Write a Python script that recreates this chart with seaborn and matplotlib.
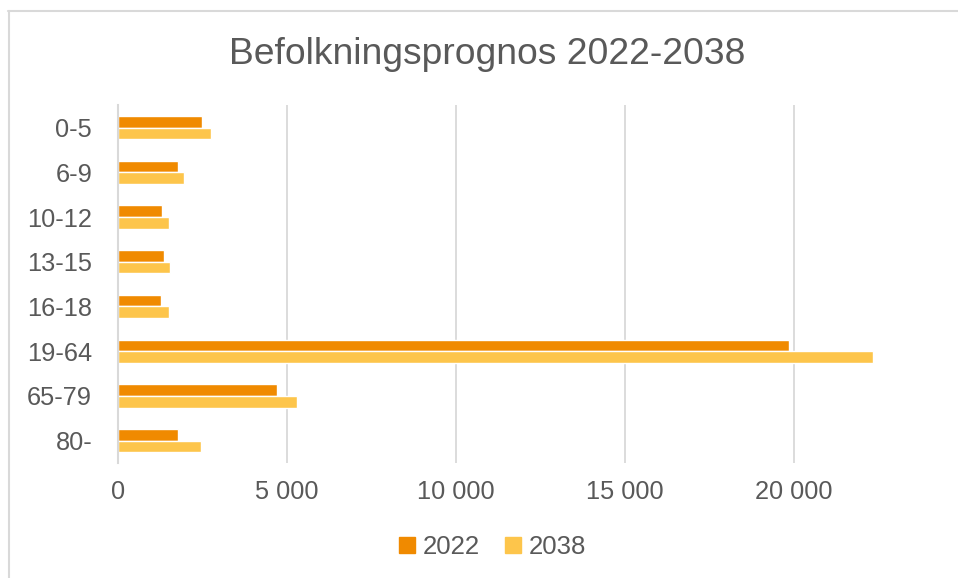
import pandas as pd
import seaborn as sns
from matplotlib import pyplot as plt
from matplotlib.lines import Line2D
from matplotlib.ticker import FuncFormatter

# data
aldrar = ['0-5', '6-9', '10-12', '13-15', '16-18', '19-64', '65-79', '80-']
ar_2022 = [2480, 1790, 1320, 1370, 1290, 19860, 4700, 1770]
ar_2038 = [2770, 1960, 1500, 1530, 1520, 22350, 5310, 2460]
serier = ['2022', '2038']
farger = ['#F08A00', '#FDC54B']

df = pd.DataFrame({
    'Ålder': aldrar * 2,
    'Antal': ar_2022 + ar_2038,
    'År': [serier[0]] * len(aldrar) + [serier[1]] * len(aldrar),
})

sns.set_style('white')
plt.rcParams['font.family'] = ['Liberation Sans', 'DejaVu Sans']
grey_txt = '#595959'

fig = plt.figure(figsize=(9.58, 5.78), dpi=100)
ax = fig.add_axes([0.123, 0.199, 0.801, 0.619])

sns.barplot(data=df, y='Ålder', x='Antal', hue='År', orient='h',
            palette=farger, width=0.52, gap=0, ax=ax, saturation=1,
            legend=True)

ax.set_xlim(0, 22700)
ax.set_xticks(range(0, 20001, 5000))
ax.xaxis.set_major_formatter(FuncFormatter(lambda v, p: f'{int(v):,}'.replace(',', ' ')))
ax.grid(axis='x', color='#D9D9D9', lw=1.3)
ax.set_axisbelow(True)
for s in ['top', 'right', 'bottom']:
    ax.spines[s].set_visible(False)
ax.spines['left'].set_color('#D9D9D9')
ax.spines['left'].set_linewidth(1.5)
ax.tick_params(length=0, labelsize=18.3, labelcolor=grey_txt)
ax.tick_params(axis='x', pad=12)
ax.tick_params(axis='y', pad=18.5)
ax.set_xlabel('')
ax.set_ylabel('')

ax.get_legend().remove()
fig.text(0.509, 0.905, 'Befolkningsprognos 2022-2038', ha='center', va='center',
         fontsize=26.8, color=grey_txt)
handles = [plt.Rectangle((0, 0), 1, 1, color=c) for c in farger]
fig.legend(handles, serier, loc='center', bbox_to_anchor=(0.514, 0.053), ncol=2,
           frameon=False, fontsize=18.5, labelcolor=grey_txt,
           handlelength=0.6, handleheight=0.6, handletextpad=0.3, columnspacing=1.0)

# light frame like the original screenshot (top and left edges)
fig.add_artist(Line2D([8 / 958, 1], [1 - 10.5 / 578] * 2, color='#D9D9D9', lw=1.5))
fig.add_artist(Line2D([8.5 / 958] * 2, [0, 1 - 10.5 / 578], color='#D9D9D9', lw=1.5))

fig.savefig('out.png', dpi=100)
